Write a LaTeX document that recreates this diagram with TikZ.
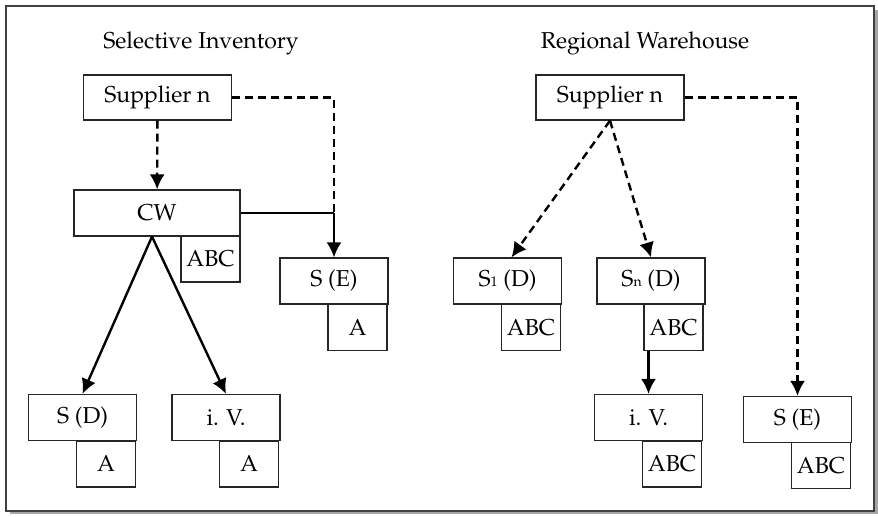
\documentclass[tikz,border=0pt]{standalone}
\usepackage[T1]{fontenc}
\usepackage{mathpazo}
\usetikzlibrary{arrows.meta}
\tikzset{
  box/.style={draw=black!85, line width=0.6pt, fill=white, inner sep=0pt, minimum width=54pt, minimum height=23pt, font=\fontsize{11.5}{13}\selectfont},
  smallbox/.style={box, minimum width=29.5pt},
  wide/.style={box, minimum width=74pt, minimum height=22.5pt},
  tip/.style={-{Latex[length=7.5pt,width=7.5pt]}},
  flow/.style={line width=1.2pt, tip},
  plainflow/.style={line width=1.2pt},
  dflow/.style={line width=1.2pt, dash pattern=on 4pt off 2.5pt},
  title/.style={font=\fontsize{11.5}{13}\selectfont, inner sep=0pt}
}
\newcommand{\smallsub}[1]{{\fontsize{7}{8}\selectfont #1}}
\begin{document}
\begin{tikzpicture}[x=0.5pt,y=-0.5pt]
\useasboundingbox (0,0) rectangle (878,516);
% frame with shadow
\fill[gray!70] (9.5,9.5) rectangle (877.5,514);
\draw[fill=white, draw=black!75, line width=1pt] (5.5,5.5) rectangle (874,510.5);

% titles
\node[title] (t1) at (201,43) {Selective Inventory};
\node[title] (t2) at (645,43) {Regional Warehouse};

% left diagram
\node[wide] (sup1) at (157.5,97.5) {Supplier n};
\node[box, minimum width=83pt] (cw) at (157,213) {CW};
\node[smallbox] (cwabc) at (210.5,259) {ABC};
\node[box] (se1) at (334,281) {S (E)};
\node[smallbox] (se1a) at (357.5,327.5) {A};
\node[box] (sd1) at (82.5,417.5) {S (D)};
\node[smallbox] (sd1a) at (106,464) {A};
\node[box] (iv1) at (226,417.5) {i. V.};
\node[smallbox] (iv1a) at (249,464) {A};

\coordinate (j) at (se1.north |- cw.east);
\coordinate (c1) at ([xshift=-2.5pt]cw.south);
\draw[dflow, tip] (sup1) -- (cw);
\draw[dflow] (sup1.east) -| (j);
\draw[plainflow] (cw.east) -- (j);
\draw[flow] (j) -- (se1.north);
\draw[flow] (c1) -- (sd1.north);
\draw[flow] (c1) -- (iv1.north);

% right diagram
\node[wide] (sup2) at (610,97.5) {Supplier n};
\node[box] (s1d) at (507.5,281) {S\smallsub{1} (D)};
\node[smallbox] (s1a) at (531,327.5) {ABC};
\node[box] (snd) at (651,281) {S\smallsub{n} (D)};
\node[smallbox] (sna) at (673.5,327.5) {ABC};
\node[box] (iv2) at (648.5,417.5) {i. V.};
\node[smallbox] (iv2a) at (672,464) {ABC};
\node[box] (se2) at (797.5,419.5) {S (E)};
\node[smallbox] (se2a) at (821,465.5) {ABC};

\draw[dflow, tip] (sup2.south) -- ([xshift=2pt]s1d.north);
\draw[dflow, tip] (sup2.south) -- (snd.north);
\draw[dflow, tip] (sup2.east) -| (se2.north);
\draw[flow] (iv2.north |- sna.south) -- (iv2.north);
\end{tikzpicture}
\end{document}
